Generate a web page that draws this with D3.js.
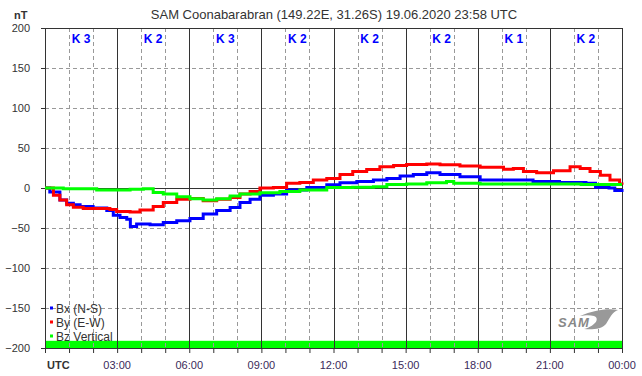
<!DOCTYPE html>
<html>
<head>
<meta charset="utf-8">
<script src="https://cdn.jsdelivr.net/npm/d3@7"></script>
<style>
body { margin: 0; background: #fff; }
text { font-family: "Liberation Sans", Arial, sans-serif; }
</style>
</head>
<body>
<div id="chart-area"></div>
<script>
// Datos
var title = "SAM Coonabarabran (149.22E, 31.26S) 19.06.2020 23:58 UTC";
var kLabels = ["K 3", "K 2", "K 3", "K 2", "K 2", "K 2", "K 1", "K 2"];
var xTickLabels = ["UTC", "03:00", "06:00", "09:00", "12:00", "15:00", "18:00", "21:00", "00:00"];
var yTicks = [200, 150, 100, 50, 0, -50, -100, -150, -200];
var legendNames = ["Bx (N-S)", "By (E-W)", "Bz Vertical"];

var bxHours = [0, 0.2, 0.62, 0.9, 1.18, 1.46, 2.0, 2.57, 2.84, 3.12, 3.4, 3.55, 3.81, 4.37, 4.92, 5.48, 6.03, 6.58, 7.14, 7.7, 8.11, 8.53, 8.94, 9.5, 10.05, 10.89, 11.72, 12.27, 12.97, 13.66, 14.22, 14.77, 15.32, 15.88, 16.43, 17.26, 18.1, 19.2, 20.3, 21.4, 22.5, 22.9, 23.46, 23.7, 24];
var bxValues = [0, -5, -15, -19, -21, -23, -25, -28, -34, -37, -39, -48, -45, -46, -43, -41, -38, -32.5, -28, -24.5, -18, -14, -9, -7.5, -2.5, 0.5, 4, 6.5, 8, 10, 12, 15, 17, 19, 17, 14, 10, 10, 8, 7, 6, 1, 0, -3, -5];

var byHours = [0, 0.35, 0.62, 0.9, 1.18, 1.59, 2.15, 2.7, 2.98, 3.54, 3.95, 4.5, 4.92, 5.48, 6.03, 6.58, 7.14, 7.7, 8.11, 8.53, 8.94, 9.5, 10.05, 10.6, 11.16, 11.72, 12.27, 12.8, 13.38, 13.93, 14.5, 15.04, 15.88, 16.43, 17.26, 18.1, 19.07, 19.48, 19.9, 20.45, 21.15, 21.84, 22.26, 22.67, 23.1, 23.5, 23.9, 24];
var byValues = [0, -9, -15, -21, -24, -25.5, -25.5, -27, -29.5, -30, -27.5, -23, -18, -14, -13, -16, -14, -12, -7.5, -4.5, 0, 0.5, 6, 7, 10, 12, 17, 20.5, 23, 26.5, 28, 29.5, 30, 29, 27.5, 26, 23.5, 24.5, 20.5, 19, 21.5, 26.5, 24.5, 20.5, 16, 10, 5, 4];

var bzHours = [0, 0.76, 2.15, 2.98, 3.54, 4.09, 4.5, 4.92, 5.48, 6.03, 6.58, 7.14, 7.7, 8.11, 8.94, 9.77, 10.6, 11.72, 12.8, 13.66, 14.22, 15.04, 15.88, 16.7, 17.0, 18.1, 20.6, 22.3, 24];
var bzValues = [0, -1, -2.5, -2.5, -1.5, -1, -5.5, -7.5, -11, -13.5, -15, -13.5, -10, -7.5, -6, -4.5, -2.5, 0.5, 1, 1.5, 4.5, 5, 6.5, 8, 6, 5, 5, 4.5, 4.5];

var seriesColors = ["#0000ff", "#ff0000", "#00ff00"];

// Crear SVG y grupo
var margin = {top: 28, right: 20, bottom: 28, left: 45};
var width = 577;
var height = 320;

var svg = d3.select("#chart-area")
    .append("svg")
    .attr("width", 642)
    .attr("height", 376);

var g = svg.append("g")
    .attr("transform", "translate(" + margin.left + "," + margin.top + ")");

// Escalas
var x = d3.scaleLinear().domain([0, 24]).range([0, width]);
var y = d3.scaleLinear().domain([-200, 200]).range([height, 0]);

// Titulo
svg.append("text")
    .attr("x", 334)
    .attr("y", 19)
    .attr("text-anchor", "middle")
    .attr("font-size", "13px")
    .style("fill", "#333")
    .text(title);

svg.append("text")
    .attr("x", 14)
    .attr("y", 19)
    .attr("font-size", "11px")
    .attr("font-weight", "bold")
    .style("fill", "#333")
    .text("nT");

// Barra verde
g.append("rect")
    .attr("x", 0)
    .attr("y", y(-191))
    .attr("width", width)
    .attr("height", y(-200) - y(-191))
    .attr("fill", "#00ff00");

// Rejilla horizontal
g.selectAll(".hgrid")
    .data(yTicks.filter(function(d) { return d !== 0 && Math.abs(d) !== 200; }))
    .enter().append("line")
    .attr("x1", 0).attr("x2", width)
    .attr("y1", function(d) { return y(d) + 0.5; })
    .attr("y2", function(d) { return y(d) + 0.5; })
    .attr("stroke", "#999")
    .attr("stroke-dasharray", "4,3");

// Rejilla vertical (horas)
var hours = d3.range(1, 24);
g.selectAll(".vgrid")
    .data(hours.filter(function(h) { return h % 3 !== 0; }))
    .enter().append("line")
    .attr("x1", function(d) { return Math.round(x(d)) + 0.5; })
    .attr("x2", function(d) { return Math.round(x(d)) + 0.5; })
    .attr("y1", 0).attr("y2", height)
    .attr("stroke", "#999")
    .attr("stroke-dasharray", "4,3");

g.selectAll(".vmajor")
    .data(hours.filter(function(h) { return h % 3 === 0; }))
    .enter().append("line")
    .attr("x1", function(d) { return Math.round(x(d)) + 0.5; })
    .attr("x2", function(d) { return Math.round(x(d)) + 0.5; })
    .attr("y1", 0).attr("y2", height)
    .attr("stroke", "#333");

// Linea cero
g.append("line")
    .attr("x1", 0).attr("x2", width)
    .attr("y1", y(0) + 0.5).attr("y2", y(0) + 0.5)
    .attr("stroke", "#333");

// Marco
g.append("rect")
    .attr("x", 0.5).attr("y", 0.5)
    .attr("width", width).attr("height", height)
    .attr("fill", "none")
    .attr("stroke", "#333");

// Eje Y
var leftAxis = d3.axisLeft(y).tickValues(yTicks).tickSize(4).tickPadding(11);
var ly = g.append("g").attr("class", "left axis").call(leftAxis);
ly.select(".domain").remove();
ly.selectAll("line").attr("stroke", "#333");
ly.selectAll("text").attr("font-size", "11px").attr("font-family", "Liberation Sans, Arial").style("fill", "#333");

// Eje X
var bottomAxis = d3.axisBottom(x).tickValues(d3.range(0, 25)).tickSize(5).tickFormat("");
var bx = g.append("g").attr("class", "bottom axis")
    .attr("transform", "translate(0," + height + ")")
    .call(bottomAxis);
bx.select(".domain").remove();
bx.selectAll("line").attr("stroke", "#333");

g.selectAll(".xlabel")
    .data(xTickLabels)
    .enter().append("text")
    .attr("x", function(d, i) { return i === 0 ? 2 : x(i * 3); })
    .attr("y", height + 21)
    .attr("text-anchor", function(d, i) { return i === 0 ? "start" : "middle"; })
    .attr("font-size", "11px")
    .attr("font-weight", function(d, i) { return i === 0 ? "bold" : "normal"; })
    .style("fill", function(d, i) { return i === 0 ? "#333" : "#3a2a5a"; })
    .text(function(d) { return d; });

// Etiquetas K
g.selectAll(".klabel")
    .data(kLabels)
    .enter().append("text")
    .attr("x", function(d, i) { return x(i * 3 + 1.5); })
    .attr("y", 15)
    .attr("text-anchor", "middle")
    .attr("font-size", "12px")
    .attr("font-weight", "bold")
    .style("fill", "#0000ff")
    .text(function(d) { return d; });

// Series
var series = [
    {hours: bxHours, values: bxValues},
    {hours: byHours, values: byValues},
    {hours: bzHours, values: bzValues}
];
var line = d3.line()
    .x(function(d) { return x(d[0]); })
    .y(function(d) { return y(d[1]); })
    .curve(d3.curveStepAfter);

series.forEach(function(s, i) {
    var pts = s.hours.map(function(h, j) { return [h, s.values[j]]; });
    g.append("path")
        .datum(pts)
        .attr("d", line)
        .attr("fill", "none")
        .attr("stroke", seriesColors[i])
        .attr("stroke-width", 3);
});

// Leyenda
var legend = g.selectAll(".legend")
    .data(legendNames)
    .enter().append("g")
    .attr("transform", function(d, i) { return "translate(5," + (y(-150) + i * 14) + ")"; });
legend.append("rect")
    .attr("x", 0).attr("y", -1.5)
    .attr("width", 3).attr("height", 3)
    .attr("fill", function(d, i) { return seriesColors[i]; });
legend.append("text")
    .attr("x", 6)
    .attr("y", 4.5)
    .attr("font-size", "12px")
    .style("fill", "#333")
    .text(function(d) { return d; });

// Logo SAM
var logo = svg.append("g").attr("transform", "translate(558,308)");
logo.append("path")
    .attr("d", "M22,8 C36,2 50,0 60,2 C54,4 52,10 48,16 C44,21 34,22 26,21 C38,18 42,10 36,8 C32,7 28,7 22,8 Z")
    .attr("fill", "#999");
logo.append("text")
    .attr("x", 0)
    .attr("y", 19)
    .attr("font-size", "13px")
    .attr("font-style", "italic")
    .attr("font-weight", "bold")
    .attr("letter-spacing", "1")
    .style("fill", "#888")
    .text("SAM");
</script>
</body>
</html>
